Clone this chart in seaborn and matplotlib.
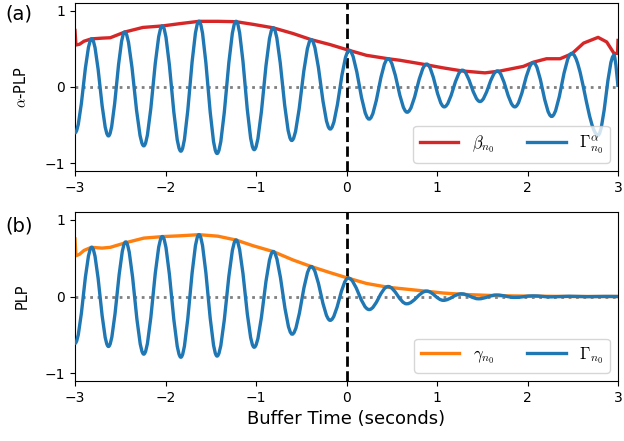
import numpy as np
import pandas as pd
import matplotlib
matplotlib.use("Agg")
import matplotlib.pyplot as plt
from matplotlib.path import Path
from matplotlib.patches import PathPatch
from matplotlib.lines import Line2D
import seaborn as sns

# ---------------- data ----------------
# (a) envelope beta_{n0}
beta_t = [-3.0, -2.99, -2.95, -2.9, -2.82, -2.7, -2.61, -2.45, -2.25, -2.03, -1.84,
          -1.63, -1.42, -1.22, -1.03, -0.81, -0.59, -0.39, -0.18, 0.0, 0.22, 0.46,
          0.59, 0.79, 0.886, 1.07, 1.28, 1.53, 1.70, 1.955, 2.065, 2.21, 2.36, 2.49,
          2.62, 2.78, 2.875, 2.956, 2.995, 3.0]
beta_v = [0.74, 0.55, 0.56, 0.60, 0.63, 0.64, 0.645, 0.72, 0.78, 0.80, 0.83,
          0.86, 0.86, 0.855, 0.82, 0.775, 0.70, 0.62, 0.555, 0.49, 0.415, 0.37,
          0.35, 0.31, 0.29, 0.25, 0.21, 0.185, 0.21, 0.27, 0.325, 0.37, 0.37, 0.435,
          0.575, 0.65, 0.59, 0.44, 0.44, 0.61]

# (a) oscillation Gamma^alpha_{n0}: turning points
galpha_t = [-3.0, -2.815, -2.63, -2.45, -2.24, -2.035, -1.83, -1.63, -1.43, -1.22,
            -1.02, -0.81, -0.605, -0.39, -0.18, 0.03, 0.25, 0.46, 0.67, 0.886,
            1.08, 1.28, 1.475, 1.667, 1.86, 2.065, 2.267, 2.488, 2.78, 2.956, 3.0]
galpha_v = [-0.60, 0.63, -0.64, 0.72, -0.77, 0.80, -0.84, 0.86, -0.87, 0.86,
            -0.82, 0.775, -0.70, 0.62, -0.55, 0.48, -0.42, 0.37, -0.33, 0.30,
            -0.26, 0.22, -0.19, 0.21, -0.26, 0.32, -0.385, 0.44, -0.63, 0.415, 0.0]

# (b) envelope gamma_{n0}
gam_t = [-3.0, -2.99, -2.95, -2.9, -2.82, -2.7, -2.61, -2.44, -2.24, -2.03, -1.84,
         -1.63, -1.42, -1.22, -1.03, -0.81, -0.59, -0.39, -0.18, 0.0, 0.22, 0.46,
         0.79, 1.07, 1.33, 1.68, 2.0, 2.5, 3.0]
gam_v = [0.75, 0.53, 0.55, 0.60, 0.64, 0.63, 0.64, 0.70, 0.76, 0.78, 0.79,
         0.805, 0.785, 0.735, 0.66, 0.585, 0.475, 0.39, 0.31, 0.245, 0.17, 0.12,
         0.08, 0.045, 0.025, 0.01, 0.005, 0.0, 0.0]

# (b) oscillation Gamma_{n0}: turning points
g_t = [-3.0, -2.815, -2.63, -2.44, -2.24, -2.035, -1.83, -1.63, -1.43, -1.22,
       -1.02, -0.81, -0.60, -0.39, -0.18, 0.02, 0.25, 0.46, 0.665, 0.886,
       1.07, 1.27, 1.46, 1.66, 1.86, 2.06, 2.26, 2.46, 2.66, 2.86, 3.0]
g_v = [-0.61, 0.64, -0.65, 0.71, -0.75, 0.78, -0.79, 0.805, -0.775, 0.735,
       -0.66, 0.585, -0.49, 0.39, -0.31, 0.24, -0.17, 0.13, -0.095, 0.07,
       -0.05, 0.035, -0.03, 0.02, -0.012, 0.008, -0.005, 0.003, -0.002, 0.001, 0.0]

x_ticks = [-3, -2, -1, 0, 1, 2, 3]
y_ticks = [-1, 0, 1]

RED, BLUE, ORANGE = "#d62728", "#1f77b4", "#ff7f0e"
LW = 2.4

plt.rcParams["mathtext.fontset"] = "cm"
plt.rcParams["font.family"] = ["DejaVu Sans"]


def wave_path(t, v, k=0.3634):
    """Smooth path through successive turning points (flat tangents at each)."""
    verts = [(t[0], v[0])]
    codes = [Path.MOVETO]
    n = len(t)
    for i in range(n - 1):
        dx = t[i + 1] - t[i]
        c1 = (t[i] + k * dx, v[i])
        if i == n - 2:
            c2 = (t[i + 1], v[i + 1])
        else:
            c2 = (t[i + 1] - k * dx, v[i + 1])
        verts += [c1, c2, (t[i + 1], v[i + 1])]
        codes += [Path.CURVE4] * 3
    return Path(verts, codes)


fig = plt.figure(figsize=(6.24, 4.41), dpi=100)
ax_a = fig.add_axes([75 / 624, 1 - 171 / 441, 543 / 624, 168 / 441])
ax_b = fig.add_axes([75 / 624, 1 - 381 / 441, 543 / 624, 169 / 441])

panels = [
    (ax_a, beta_t, beta_v, RED, r"$\beta_{n_0}$", galpha_t, galpha_v,
     r"$\Gamma^{\alpha}_{n_0}$", r"$\alpha$-PLP"),
    (ax_b, gam_t, gam_v, ORANGE, r"$\gamma_{n_0}$", g_t, g_v,
     r"$\Gamma_{n_0}$", "PLP"),
]

for ax, et, ev, ecol, elab, wt, wv, wlab, ylab in panels:
    ax.axhline(0, color="gray", ls=":", lw=2, zorder=1)
    ax.axvline(0, color="black", ls="--", lw=2, zorder=1.5)
    env = pd.DataFrame({"t": et, "v": ev})
    sns.lineplot(data=env, x="t", y="v", color=ecol, lw=LW, ax=ax, zorder=2)
    ax.add_patch(PathPatch(wave_path(wt, wv), fill=False, edgecolor=BLUE,
                           lw=LW, zorder=3))
    handles = [Line2D([], [], color=ecol, lw=LW),
               Line2D([], [], color=BLUE, lw=LW)]
    ax.legend(handles, [elab, wlab], loc="lower right", ncol=2, fontsize=12,
              handlelength=2.3, framealpha=0.8)
    ax.set_xlim(-3, 3)
    ax.set_ylim(-1.1, 1.1)
    ax.set_xticks(x_ticks)
    ax.set_yticks(y_ticks)
    ax.set_ylabel(ylab, fontsize=10.5, labelpad=11)
    ax.set_xlabel("")

ax_b.set_xlabel("Buffer Time (seconds)", fontsize=13)

fig.text(0.008, 0.968, "(a)", fontsize=14, va="center", ha="left")
fig.text(0.008, 0.487, "(b)", fontsize=14, va="center", ha="left")

fig.savefig("out.png", dpi=100)
